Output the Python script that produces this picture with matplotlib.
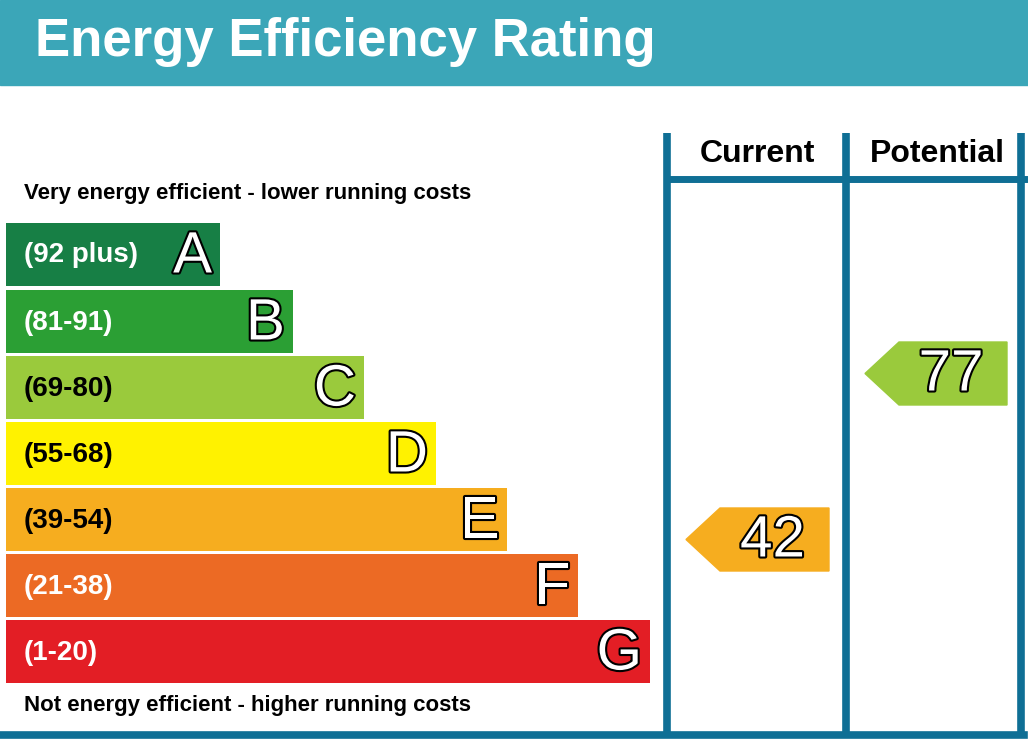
import matplotlib
matplotlib.use("Agg")
import matplotlib.pyplot as plt
from matplotlib.patches import Rectangle, Polygon
import matplotlib.patheffects as pe

title = "Energy Efficiency Rating"
band_labels = ["(92 plus)", "(81-91)", "(69-80)", "(55-68)", "(39-54)", "(21-38)", "(1-20)"]
band_letters = ["A", "B", "C", "D", "E", "F", "G"]
band_colors = ["#177f45", "#2b9f34", "#9aca3c", "#fff200", "#f6ad1f", "#ec6a24", "#e31e25"]
band_right = [220, 293, 364, 436, 507, 578, 650]
current_value = 42
current_band = 4
potential_value = 77
potential_band = 2
arrow_colors = {42: "#f6ad1f", 77: "#9aca3c"}

fig = plt.figure(figsize=(10.28, 7.4), dpi=100)
ax = fig.add_axes([0, 0, 1, 1])
ax.set_xlim(0, 1028); ax.set_ylim(740, 0); ax.axis("off")

ax.add_patch(Rectangle((0, 0), 1028, 85, color="#3ba6b8"))
ax.text(35, 42, title, color="white", fontsize=38, fontweight="bold", va="center", family="Liberation Sans")

tops = [223, 290, 356, 422, 488, 554, 620]
h = 63
ax.barh([t + h / 2 for t in tops], [r - 6 for r in band_right], left=6, height=h, color=band_colors)
stroke = [pe.withStroke(linewidth=3, foreground="black")]
for t, r, lab, let, c in zip(tops, band_right, band_labels, band_letters, band_colors):
    ax.text(24, t + h / 2 + 1, lab, fontsize=20, fontweight="bold", va="center", family="Liberation Sans",
            color="black" if c in ("#9aca3c", "#fff200", "#f6ad1f") else "white")
    ax.text(r - 8, t + h / 2 + 3, let, fontsize=42, ha="right", va="center", family="Liberation Sans",
            color="white", path_effects=stroke)

ax.text(24, 194, "Very energy efficient - lower running costs", fontsize=16, fontweight="bold", va="center", family="Liberation Sans")
ax.text(24, 706, "Not energy efficient - higher running costs", fontsize=16, fontweight="bold", va="center", family="Liberation Sans")

lc = "#0f6f95"
for x in [667, 846, 1021]:
    ax.plot([x, x], [133, 738], color=lc, lw=5.5, solid_capstyle="butt")
ax.plot([667, 1024], [179, 179], color=lc, lw=5)
ax.plot([0, 1024], [735, 735], color=lc, lw=5.5)
ax.text(757, 154, "Current", fontsize=23, fontweight="bold", ha="center", va="center", family="Liberation Sans")
ax.text(937, 154, "Potential", fontsize=23, fontweight="bold", ha="center", va="center", family="Liberation Sans")

def arrow(x0, x1, top, val):
    y0, y1 = top, top + 63
    ym = (y0 + y1) / 2
    ax.add_patch(Polygon([(x0, ym), (x0 + 34, y0), (x1, y0), (x1, y1), (x0 + 34, y1)], closed=True,
                         color=arrow_colors[val]))
    ax.text((x0 + x1) / 2 + 15, ym + 2, str(val), fontsize=42, ha="center", va="center",
            family="Liberation Sans", color="white", path_effects=stroke)

arrow(686, 829, 508, current_value)
arrow(865, 1007, 342, potential_value)

fig.savefig("out.png", dpi=100)
